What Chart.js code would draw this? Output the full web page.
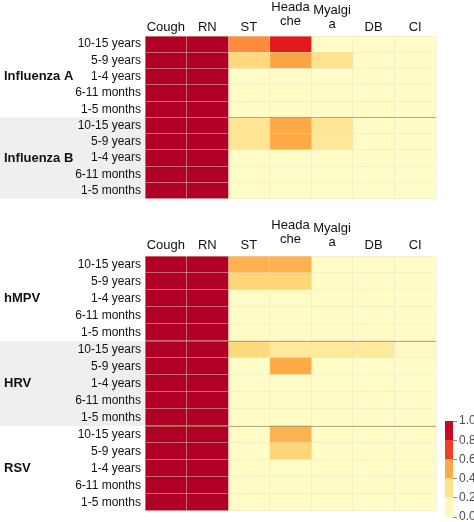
<!DOCTYPE html>
<html>
<head>
<meta charset="utf-8">
<script src="https://cdn.jsdelivr.net/npm/chart.js@4/dist/chart.umd.min.js"></script>
<style>
  html, body { margin: 0; padding: 0; background: #fff; overflow: hidden; width: 474px; height: 522px; }
  .box { position: absolute; }
</style>
</head>
<body>
<div class="box" style="left:0;top:0;width:474px;height:210px"><canvas id="top"></canvas></div>
<div class="box" style="left:0;top:215px;width:474px;height:307px"><canvas id="bottom"></canvas></div>
<div class="box" style="left:430px;top:405px;width:80px;height:125px"><canvas id="scale"></canvas></div>
<script>
// ---------- data ----------
const symptoms = ['Cough', 'RN', 'ST', 'Headache', 'Myalgia', 'DB', 'CI'];
const symptomLabels = ['Cough', 'RN', 'ST', ['Heada', 'che'], ['Myalgi', 'a'], 'DB', 'CI'];
const ageGroups = ['10-15 years', '5-9 years', '1-4 years', '6-11 months', '1-5 months'];
const topGroups = ['Influenza A', 'Influenza B'];
const bottomGroups = ['hMPV', 'HRV', 'RSV'];

// rows: ageGroups; columns: symptoms (proportion 0..1)
const influenzaA = [
  [1.00, 1.00, 0.60, 0.75, 0.05, 0.05, 0.05],
  [1.00, 1.00, 0.36, 0.52, 0.30, 0.05, 0.05],
  [1.00, 1.00, 0.05, 0.05, 0.05, 0.05, 0.05],
  [1.00, 1.00, 0.05, 0.05, 0.05, 0.05, 0.05],
  [1.00, 1.00, 0.05, 0.05, 0.05, 0.05, 0.05]
];
const influenzaB = [
  [1.00, 1.00, 0.28, 0.50, 0.28, 0.05, 0.05],
  [1.00, 1.00, 0.28, 0.50, 0.26, 0.05, 0.05],
  [1.00, 1.00, 0.05, 0.05, 0.05, 0.05, 0.05],
  [1.00, 1.00, 0.05, 0.05, 0.05, 0.05, 0.05],
  [1.00, 1.00, 0.05, 0.05, 0.05, 0.05, 0.05]
];
const hMPV = [
  [1.00, 1.00, 0.48, 0.48, 0.05, 0.05, 0.05],
  [1.00, 1.00, 0.37, 0.37, 0.05, 0.05, 0.05],
  [1.00, 1.00, 0.05, 0.05, 0.05, 0.05, 0.05],
  [1.00, 1.00, 0.05, 0.05, 0.05, 0.05, 0.05],
  [1.00, 1.00, 0.05, 0.05, 0.05, 0.05, 0.05]
];
const HRV = [
  [1.00, 1.00, 0.35, 0.25, 0.25, 0.25, 0.08],
  [1.00, 1.00, 0.05, 0.50, 0.05, 0.05, 0.05],
  [1.00, 1.00, 0.05, 0.05, 0.05, 0.05, 0.05],
  [1.00, 1.00, 0.05, 0.05, 0.05, 0.05, 0.05],
  [1.00, 1.00, 0.05, 0.05, 0.05, 0.05, 0.05]
];
const RSV = [
  [1.00, 1.00, 0.05, 0.48, 0.05, 0.05, 0.05],
  [1.00, 1.00, 0.05, 0.37, 0.05, 0.05, 0.05],
  [1.00, 1.00, 0.05, 0.05, 0.05, 0.05, 0.05],
  [1.00, 1.00, 0.05, 0.05, 0.05, 0.05, 0.05],
  [1.00, 1.00, 0.05, 0.05, 0.05, 0.05, 0.05]
];
const scaleTicks = [0, 0.2, 0.4, 0.6, 0.8, 1.0];
const scaleBands = [0.2, 0.2, 0.2, 0.2, 0.2];

// ---------- colour ----------
const stops = [
  [0.0, [255, 255, 208]], [0.2, [255, 242, 174]], [0.4, [254, 209, 110]],
  [0.5, [253, 170, 71]], [0.6, [253, 141, 60]], [0.75, [227, 26, 28]], [1.0, [177, 0, 38]]
];
function colorFor(v) {
  v = Math.max(0, Math.min(1, v));
  for (let i = 1; i < stops.length; i++) {
    if (v <= stops[i][0]) {
      const [a, ca] = stops[i - 1], [b, cb] = stops[i];
      const t = (v - a) / (b - a);
      const c = ca.map((x, k) => Math.round(x + (cb[k] - x) * t));
      return `rgb(${c[0]},${c[1]},${c[2]})`;
    }
  }
  return 'rgb(177,0,38)';
}

const FONT = "'Liberation Sans', Arial, sans-serif";
Chart.defaults.font.family = FONT;
Chart.defaults.animation = false;

// nudge the two-line column labels upward like the reference
const raiseLabel = { 3: 6, 4: 3 };

function groupPlugin(groupNames, shaded) {
  return {
    id: 'groups',
    afterLayout(chart) {
      const s = chart.scales.x2;
      const items = s.getLabelItems(chart.chartArea);
      items.forEach((it, i) => {
        if (raiseLabel[i]) {
          const tr = it.options.translation;
          it.options.translation = [tr[0], tr[1] - raiseLabel[i]];
        }
      });
    },
    beforeDraw(chart) {
      const y = chart.scales.y, ctx = chart.ctx, ca = chart.chartArea;
      ctx.save();
      ctx.fillStyle = '#efefef';
      groupNames.forEach((g, gi) => {
        if (!shaded.includes(g)) return;
        const t = y.getPixelForValue(gi * 5 - 0.5), b = y.getPixelForValue(gi * 5 + 4.5);
        ctx.fillRect(0, t, ca.left, b - t);
      });
      ctx.restore();
    },
    afterDraw(chart) {
      const y = chart.scales.y, ctx = chart.ctx, ca = chart.chartArea;
      ctx.save();
      ctx.strokeStyle = 'rgba(150,140,100,0.7)';
      ctx.lineWidth = 1;
      for (let gi = 1; gi < groupNames.length; gi++) {
        const p = Math.round(y.getPixelForValue(gi * 5 - 0.5)) + 0.5;
        ctx.beginPath(); ctx.moveTo(ca.left, p); ctx.lineTo(ca.right, p); ctx.stroke();
      }
      ctx.fillStyle = '#111';
      ctx.font = 'bold 13px ' + FONT;
      ctx.textBaseline = 'middle';
      ctx.textAlign = 'left';
      groupNames.forEach((g, gi) => {
        const c = y.getPixelForValue(gi * 5 + 2);
        ctx.fillText(g, 4, c);
      });
      ctx.restore();
    }
  };
}

function makePanel(id, groupNames, groupData, shaded, topH, labelPad) {
  const rowLabels = [];
  groupNames.forEach(() => ageGroups.forEach(a => rowLabels.push(a)));
  const allRows = [].concat(...groupData);
  const datasets = symptoms.map((s, si) => {
    const vals = allRows.map(r => r[si]);
    return {
      label: s,
      data: vals.map(() => 1),
      backgroundColor: vals.map(colorFor),
      borderWidth: 0,
      barPercentage: 1,
      categoryPercentage: 1,
      xAxisID: 'x'
    };
  });
  const gridColor = 'rgba(235,225,200,0.45)';
  return new Chart(document.getElementById(id), {
    type: 'bar',
    data: { labels: rowLabels, datasets },
    options: {
      indexAxis: 'y',
      responsive: true,
      maintainAspectRatio: false,
      layout: { padding: { left: 0, right: 38, top: 0, bottom: 5 } },
      plugins: { legend: { display: false }, tooltip: { enabled: false } },
      scales: {
        x: { type: 'linear', stacked: true, min: 0, max: symptoms.length, display: false },
        x2: {
          type: 'category', axis: 'x', position: 'top', labels: symptomLabels, offset: true,
          grid: { color: gridColor, lineWidth: 1, z: 1, drawTicks: false, offset: true },
          border: { display: false },
          ticks: { color: '#111', font: { size: 13, lineHeight: 1.05 }, padding: labelPad, maxRotation: 0, autoSkip: false },
          afterFit(s) { s.height = topH; }
        },
        y: {
          type: 'category', stacked: true, offset: true,
          grid: { color: gridColor, lineWidth: 1, z: 1, drawTicks: false, offset: true },
          border: { display: false },
          ticks: { color: '#111', font: { size: 12 }, padding: 4, autoSkip: false },
          afterFit(s) { s.width = 145; }
        }
      }
    },
    plugins: [groupPlugin(groupNames, shaded)]
  });
}

makePanel('top', topGroups, [influenzaA, influenzaB], ['Influenza B'], 36, 2);
makePanel('bottom', bottomGroups, [hMPV, HRV, RSV], ['HRV'], 41, 4);

// colour bar legend
new Chart(document.getElementById('scale'), {
  type: 'bar',
  data: {
    labels: ['p'],
    datasets: scaleBands.map((b, i) => ({
      data: [b],
      backgroundColor: colorFor((scaleTicks[i] + scaleTicks[i + 1]) / 2),
      borderWidth: 0, barPercentage: 1, categoryPercentage: 1
    }))
  },
  options: {
    responsive: true, maintainAspectRatio: false,
    layout: { padding: { left: 15, right: 0, top: 16, bottom: 13 } },
    plugins: { legend: { display: false }, tooltip: { enabled: false } },
    scales: {
      x: { stacked: true, display: false },
      y: {
        stacked: true, position: 'right', min: 0, max: 1,
        afterBuildTicks(s) { s.ticks = scaleTicks.map(v => ({ value: v })); },
        grid: { drawOnChartArea: false, drawTicks: true, tickLength: 4, color: '#888' },
        border: { display: false },
        ticks: { color: '#4d4d4d', font: { size: 12 }, padding: 2, callback: v => Number(v).toFixed(1) },
        afterFit(s) { s.width = 57; }
      }
    }
  }
});
</script>
</body>
</html>
